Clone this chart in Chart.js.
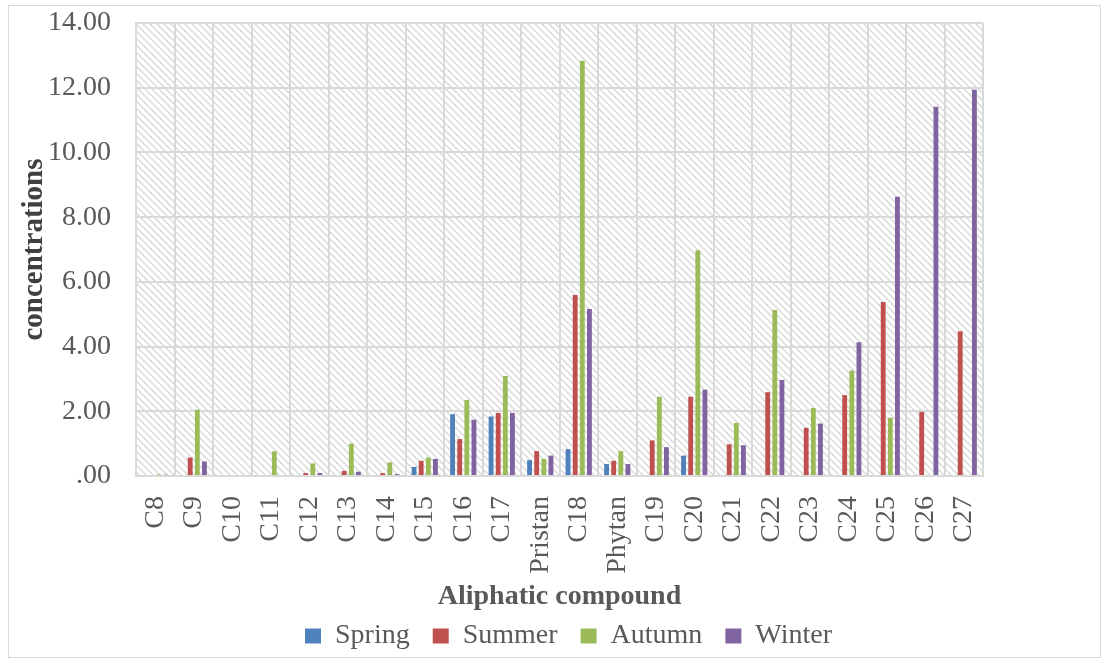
<!DOCTYPE html>
<html>
<head>
<meta charset="utf-8">
<script src="https://cdn.jsdelivr.net/npm/chart.js@4"></script>
<style>
  html, body { margin: 0; padding: 0; background: #fff; }
  #wrap { width: 1110px; height: 660px; position: relative; }
</style>
</head>
<body>
<div id="wrap"><canvas id="grafico" width="1110" height="660"></canvas></div>
<script>
// categorias e valores por estação
const compounds = ["C8", "C9", "C10", "C11", "C12", "C13", "C14", "C15", "C16", "C17", "Pristan",
  "C18", "Phytan", "C19", "C20", "C21", "C22", "C23", "C24", "C25", "C26", "C27"];
const spring = [0, 0, 0, 0, 0, 0, 0, 0.28, 1.91, 1.84, 0.49, 0.83, 0.37, 0, 0.63, 0, 0, 0, 0, 0, 0, 0];
const summer = [0, 0.57, 0, 0, 0.09, 0.16, 0.09, 0.47, 1.14, 1.95, 0.77, 5.59, 0.47, 1.1, 2.45, 0.98, 2.59, 1.49, 2.5, 5.38, 1.98, 4.47];
const autumn = [0.05, 2.05, 0, 0.76, 0.39, 1.0, 0.42, 0.57, 2.35, 3.09, 0.53, 12.83, 0.77, 2.45, 6.98, 1.64, 5.13, 2.1, 3.26, 1.8, 0, 0];
const winter = [0.04, 0.45, 0, 0, 0.09, 0.13, 0.06, 0.53, 1.74, 1.95, 0.63, 5.16, 0.37, 0.89, 2.67, 0.95, 2.97, 1.62, 4.13, 8.63, 11.41, 11.94];
const yTicks = [0, 2, 4, 6, 8, 10, 12, 14];

const serif = "'Liberation Serif', 'Times New Roman', serif";
const grey = "#595959";
const gridGrey = "#d9d9d9";

// fundo hachurado + moldura externa + legenda deslocada
const fundo = {
  id: "fundo",
  afterLayout(chart) {
    chart.legend.left += 73;
    chart.legend.right += 73;
  },
  beforeDraw(chart) {
    const ctx = chart.ctx;
    const a = chart.chartArea;
    ctx.save();
    ctx.fillStyle = "#fff";
    ctx.fillRect(0, 0, chart.width, chart.height);
    ctx.strokeStyle = gridGrey;
    ctx.lineWidth = 1;
    ctx.strokeRect(8.5, 5.5, 1092, 652);
    const p = document.createElement("canvas");
    p.width = 7; p.height = 7;
    const pc = p.getContext("2d");
    pc.strokeStyle = "#d6d6d6";
    pc.lineWidth = 1.3;
    pc.beginPath();
    pc.moveTo(-1, -1); pc.lineTo(8, 8);
    pc.moveTo(-8, -1); pc.lineTo(1, 8);
    pc.moveTo(6, -1); pc.lineTo(15, 8);
    pc.stroke();
    ctx.fillStyle = ctx.createPattern(p, "repeat");
    ctx.fillRect(a.left, a.top, a.right - a.left, a.bottom - a.top);
    ctx.restore();
  }
};

const mk = (label, data, color) => ({
  label, data, backgroundColor: color, borderWidth: 0,
  barPercentage: 0.68, categoryPercentage: 0.74
});

new Chart(document.getElementById("grafico"), {
  type: "bar",
  data: {
    labels: compounds,
    datasets: [
      mk("Spring", spring, "#4f81bd"),
      mk("Summer", summer, "#c0504d"),
      mk("Autumn", autumn, "#9bbb59"),
      mk("Winter", winter, "#8064a2")
    ]
  },
  options: {
    responsive: false,
    animation: false,
    layout: { padding: { left: 8, right: 127, top: 23, bottom: 0 } },
    plugins: {
      legend: {
        position: "bottom",
        labels: {
          font: { family: serif, size: 28 },
          color: grey,
          boxWidth: 16,
          boxHeight: 15,
          padding: 23
        }
      },
      tooltip: { enabled: false }
    },
    scales: {
      x: {
        afterFit(s) { s.height = 123; },
        grid: { color: gridGrey, lineWidth: 2, drawTicks: false, offset: true },
        border: { color: gridGrey, width: 2 },
        ticks: {
          font: { family: serif, size: 28 },
          color: grey,
          minRotation: 90,
          maxRotation: 90,
          padding: 20,
          autoSkip: false
        },
        title: {
          display: true,
          text: "Aliphatic compound",
          font: { family: serif, size: 28, weight: "bold" },
          color: grey,
          padding: { top: 0, bottom: -15 }
        }
      },
      y: {
        min: 0,
        max: 14,
        afterFit(s) { s.width = 128; },
        afterBuildTicks(s) { s.ticks = yTicks.map(v => ({ value: v })); },
        grid: { color: gridGrey, lineWidth: 2, drawTicks: true, tickLength: 21, tickColor: "rgba(0,0,0,0)" },
        border: { color: gridGrey, width: 2 },
        ticks: {
          font: { family: serif, size: 28 },
          color: grey,
          padding: 4,
          callback: v => v === 0 ? ".00" : v.toFixed(2)
        },
        title: {
          display: true,
          text: "concentrations",
          font: { family: serif, size: 29, weight: "bold" },
          color: "#404040",
          padding: { top: 9, bottom: 0 }
        }
      }
    }
  },
  plugins: [fundo]
});
</script>
</body>
</html>
